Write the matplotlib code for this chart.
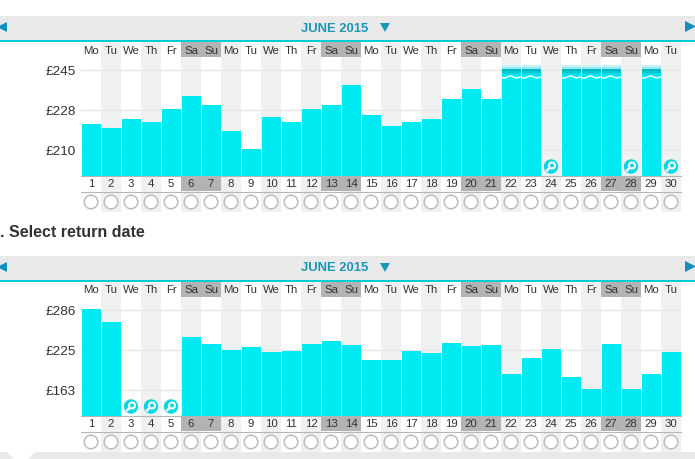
from matplotlib import pyplot as plt
from matplotlib.patches import Circle, Polygon, Rectangle
import numpy as np

plt.rcParams['font.family'] = ['Liberation Sans', 'DejaVu Sans']

days = list(range(1, 31))
weekdays = ['Mo', 'Tu', 'We', 'Th', 'Fr', 'Sa', 'Su'] * 4 + ['Mo', 'Tu']
weekend_days = [6, 7, 13, 14, 20, 21, 27, 28]
month_label = 'JUNE 2015'
return_title = '. Select return date'

# nan = no price known for that day (search icon instead)
outbound_prices = [221.2, 219.4, 223.3, 222.0, 227.7, 233.4, 229.5, 218.1, 210.2, 224.2,
                   222.0, 227.7, 229.5, 238.2, 225.1, 220.3, 222.0, 223.3, 232.1, 236.5,
                   232.1, 247.0, 247.0, np.nan, 247.0, 247.0, 247.0, np.nan, 247.0, np.nan]
outbound_capped = [22, 23, 25, 26, 27, 29]
outbound_ticks = [210, 227.5, 245]
outbound_tick_labels = ['£210', '£228', '£245']

return_prices = [286.8, 266.8, np.nan, np.nan, np.nan, 243.7, 233.0, 223.7, 228.3, 220.7,
                 222.2, 233.0, 237.6, 231.4, 208.4, 208.4, 222.2, 219.1, 234.5, 229.9,
                 231.4, 186.8, 211.4, 225.2, 182.2, 163.8, 233.0, 163.8, 186.8, 220.7]
return_ticks = [163, 224.5, 286]
return_tick_labels = ['£163', '£225', '£286']

wave_offsets = [0.5, 1, 1, 0, -0.8, -1, -0.5, 0.5, 1, 0.5, 0]

W, H = 695, 460
BAR = '#00eaf1'
TEAL = '#00ced1'
BLUE = '#1a96b8'
COL_GREY = '#eff0f0'
DARK_GREY = '#b3b3b3'
TEXT = '#333333'

fig = plt.figure(figsize=(W / 100, H / 100), dpi=100)


def pixel_axes(zorder):
    a = fig.add_axes([0, 0, 1, 1], xlim=(0, W), ylim=(H, 0), zorder=zorder)
    a.axis('off')
    a.patch.set_alpha(0)
    return a


bg = pixel_axes(0)
over = pixel_axes(5)


def rect(a, x0, y0, x1, y1, color):
    a.add_patch(Rectangle((x0, y0), x1 - x0, y1 - y0, fc=color, ec='none', lw=0))


def search_icon(cx, cy):
    over.add_patch(Circle((cx, cy), 7, fc='#00d9e6', ec='#00c4d4', lw=0.5, ls=':'))
    over.add_patch(Circle((cx + 1, cy - 1), 3, fc='#00d9e6', ec='white', lw=1.5))
    over.plot([cx - 1.2, cx - 4], [cy + 1.2, cy + 4], color='white', lw=1.8, solid_capstyle='round')


def draw_chart(dy, prices, ticks, tick_labels, capped):
    x0 = 81
    col = 20
    right = x0 + col * len(days)

    # month banner
    rect(bg, 0, 17 + dy, W, 41 + dy, '#e9e9e9')
    rect(bg, 0, 41 + dy, W, 43 + dy, TEAL)
    bg.text(334.5, 28.5 + dy, month_label, color=BLUE, fontsize=9.4, fontweight='bold', ha='center', va='center')
    bg.add_patch(Polygon([[380, 24 + dy], [390, 24 + dy], [385, 33 + dy]], fc=BLUE, ec='none'))
    bg.add_patch(Polygon([[7, 23 + dy], [7, 33 + dy], [-3, 28 + dy]], fc='#1090c0', ec='none'))
    bg.add_patch(Polygon([[685, 22 + dy], [685, 33 + dy], [696, 27.5 + dy]], fc='#1090c0', ec='none'))

    # day columns, header row, number row, radio buttons
    for i, day in enumerate(days):
        left = x0 + col * i
        mid = left + col / 2
        if day % 2 == 0:
            rect(bg, left, 43 + dy, left + col, 213 + dy, COL_GREY)
        if day in weekend_days:
            rect(bg, left, 43 + dy, left + col, 58 + dy, DARK_GREY)
            rect(bg, left, 177 + dy, left + col, 192 + dy, DARK_GREY)
        bg.text(mid, 50.5 + dy, weekdays[i], color=TEXT, fontsize=8.2, ha='center', va='center')
        bg.text(mid, 184.5 + dy, str(day), color=TEXT, fontsize=8.2, ha='center', va='center')
        bg.add_patch(Circle((mid, 203 + dy), 6.8, fc='white', ec='#b8b8b8', lw=1))
    bg.plot([x0, right], [176.5 + dy, 176.5 + dy], color='#b5b5b5', lw=0.8)
    bg.plot([x0, right], [192.5 + dy, 192.5 + dy], color='#b5b5b5', lw=0.8)

    # bar area, y scale comes from the gridline pixel positions
    top_px, base_px = 58 + dy, 176.5 + dy
    ax = fig.add_axes([x0 / W, 1 - base_px / H, (right - x0) / W, (base_px - top_px) / H], zorder=2)
    per_px = (ticks[2] - ticks[0]) / 80
    ymin = ticks[0] - (base_px - (150.5 + dy)) * per_px
    ymax = ticks[0] + ((150.5 + dy) - top_px) * per_px
    ax.patch.set_alpha(0)
    ax.bar(days, prices, width=0.95, bottom=0, color=BAR, linewidth=0, zorder=3)
    ax.set_xlim(0.5, 30.5)
    ax.set_ylim(ymin, ymax)
    ax.set_xticks([])
    ax.set_yticks(ticks)
    ax.set_yticklabels(tick_labels, fontsize=9.7, color=TEXT)
    ax.tick_params(axis='y', length=0, pad=3.5)
    ax.grid(axis='y', color='#e6e6e6', lw=1, zorder=1)
    ax.set_axisbelow(True)
    for s in ax.spines.values():
        s.set_visible(False)

    # capped bars get a faded top and a white wavy edge
    for day in capped:
        left = x0 + col * (day - 1) + 0.5
        end = left + 19
        rect(over, left, 66 + dy, end, 67.5 + dy, '#c5f3f5')
        rect(over, left, 67.5 + dy, end, 70 + dy, '#9beaef')
        rect(over, left, 70 + dy, end, 72 + dy, '#00b9c4')
        rect(over, left, 72 + dy, end, 74 + dy, '#00c6d0')
        rect(over, left, 74 + dy, end, 76 + dy, '#00dde6')
        xs = np.linspace(left, end, len(wave_offsets))
        ys = [78 + dy + o for o in wave_offsets]
        over.plot(xs, ys, color='white', lw=1)

    for i, day in enumerate(days):
        if np.isnan(prices[i]):
            search_icon(x0 + col * i + col / 2, 167.5 + dy)


draw_chart(0, outbound_prices, outbound_ticks, outbound_tick_labels, outbound_capped)
draw_chart(240, return_prices, return_ticks, return_tick_labels, [])

bg.text(0, 232.5, return_title, color=TEXT, fontsize=11.5, fontweight='bold', ha='left', va='center')

# panel at the bottom with the notch
rect(bg, 0, 453, W, H, '#e9e9e9')
bg.add_patch(Polygon([[7, 453], [35, 453], [21, 467]], fc='white', ec='none'))

fig.savefig('out.png', dpi=100)
